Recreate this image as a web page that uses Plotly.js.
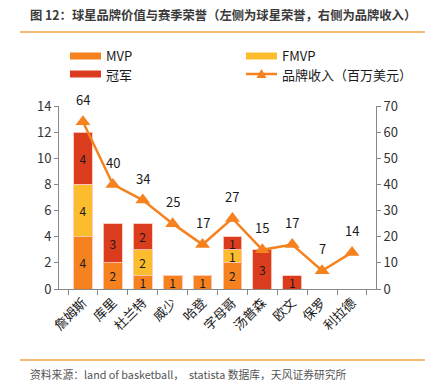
<!DOCTYPE html>
<html>
<head>
<meta charset="utf-8">
<script src="https://cdn.plot.ly/plotly-3.0.1.min.js"></script>
<style>
html,body{margin:0;padding:0;background:#fff;}
#chart{width:434px;height:392px;}
</style>
</head>
<body>
<div id="chart"></div>
<script>
const categories = ['詹姆斯','库里','杜兰特','威少','哈登','字母哥','汤普森','欧文','保罗','利拉德'];
const mvp = [4,2,1,1,1,2,0,0,0,0];
const fmvp = [4,0,2,0,0,1,0,0,0,0];
const champ = [4,3,2,0,0,1,3,1,0,0];
const revenue = [64,40,34,25,17,27,15,17,7,14];
const leftTicks = [0,2,4,6,8,10,12,14];
const rightTicks = [0,10,20,30,40,50,60,70];
const seriesNames = ['MVP','FMVP','冠军','品牌收入（百万美元）'];
const titleText = '图 12：球星品牌价值与赛季荣誉（左侧为球星荣誉，右侧为品牌收入）';
const sourceText = '资料来源：land of basketball，  statista 数据库，天风证券研究所';

const C_MVP = '#F5821F', C_FMVP = '#FBBD2E', C_CHAMP = '#DC3C1E', C_LINE = '#F5821F';
const FONT = '"Noto Sans CJK SC", "Noto Sans", sans-serif';

const W = 434, H = 392;
const L = 59, R = 376, T = 106, B = 289;
const px = x => (x - L) / (R - L);
const py = y => (B - y) / (B - T);

function barTrace(vals, name, color){
  return {
    type:'bar', x:categories, y:vals, name:name, showlegend:false,
    marker:{color:color, line:{color:'rgba(255,200,185,0.9)', width:1}},
    text: vals.map(v => v > 0 ? String(v) : ''),
    texttemplate:'%{text}',
    textposition:'inside', insidetextanchor:'middle', textangle:0,
    textfont:{family:FONT, size:12, color:'#1a1a1a'},
    hoverinfo:'skip', cliponaxis:false
  };
}

const traces = [
  barTrace(mvp, seriesNames[0], C_MVP),
  barTrace(fmvp, seriesNames[1], C_FMVP),
  barTrace(champ, seriesNames[2], C_CHAMP),
  {
    type:'scatter', mode:'lines+markers', x:categories, y:revenue, yaxis:'y2',
    name:seriesNames[3], showlegend:false,
    line:{color:C_LINE, width:2.5},
    marker:{symbol:'triangle-up', size:13, color:C_LINE},
    cliponaxis:false
  }
];

const annotations = revenue.map((v,i) => ({
  x: categories[i], y: v, xref:'x', yref:'y2',
  text: String(v), showarrow:false, yshift:22,
  font:{family:FONT, size:13, color:'#1a1a1a'}
}));

annotations.push({
  xref:'paper', yref:'paper', x:px(28), y:py(15), xanchor:'left', yanchor:'middle',
  text:'<b>'+titleText+'</b>', showarrow:false,
  font:{family:FONT, size:12.3, color:'#3a3a3a'}
});
annotations.push({
  xref:'paper', yref:'paper', x:px(28), y:py(374), xanchor:'left', yanchor:'middle',
  text:sourceText, showarrow:false,
  font:{family:FONT, size:10.8, color:'#555'}
});

// legend (manual)
const legendItems = [
  {name:seriesNames[0], color:C_MVP, x:70, y:56, kind:'bar'},
  {name:seriesNames[1], color:C_FMVP, x:246, y:56, kind:'bar'},
  {name:seriesNames[2], color:C_CHAMP, x:70, y:74, kind:'bar'},
  {name:seriesNames[3], color:C_LINE, x:246, y:74, kind:'line'}
];
const shapes = [
  {type:'line', xref:'paper', yref:'paper', x0:px(20), x1:px(425), y0:py(32), y1:py(32), line:{color:'#F7A04A', width:1.5}},
  {type:'line', xref:'paper', yref:'paper', x0:px(20), x1:px(425), y0:py(360), y1:py(360), line:{color:'#F7A04A', width:1.5}}
];
legendItems.forEach(it => {
  if(it.kind === 'bar'){
    shapes.push({type:'rect', xref:'paper', yref:'paper', x0:px(it.x), x1:px(it.x+31), y0:py(it.y-3.5), y1:py(it.y+3.5), fillcolor:it.color, line:{width:0}});
  } else {
    shapes.push({type:'line', xref:'paper', yref:'paper', x0:px(it.x), x1:px(it.x+31), y0:py(it.y), y1:py(it.y), line:{color:it.color, width:2.5}});
    const cx = it.x+15.5;
    shapes.push({type:'path', xref:'paper', yref:'paper',
      path:`M${px(cx-5)},${py(it.y+4)} L${px(cx+5)},${py(it.y+4)} L${px(cx)},${py(it.y-5)} Z`,
      fillcolor:it.color, line:{width:0}});
  }
  annotations.push({xref:'paper', yref:'paper', x:px(it.x+34), y:py(it.y), xanchor:'left', yanchor:'middle',
    text:it.name, showarrow:false, font:{family:FONT, size:13, color:'#1a1a1a'}});
});

const layout = {
  width:W, height:H,
  margin:{l:L, r:W-R, t:T, b:H-B, pad:0},
  paper_bgcolor:'#fff', plot_bgcolor:'#fff',
  barmode:'stack', bargap:0.37,
  showlegend:false,
  font:{family:FONT, size:13, color:'#333'},
  uniformtext:{mode:'show', minsize:12},
  xaxis:{
    type:'category', tickangle:-45, showgrid:false, zeroline:false,
    showline:true, linecolor:'#888', linewidth:1,
    ticks:'outside', ticklen:5, tickcolor:'#888', tickson:'boundaries',
    tickfont:{family:FONT, size:13, color:'#1a1a1a'}
  },
  yaxis:{
    range:[0,14], tickvals:leftTicks, showgrid:false, zeroline:false,
    showline:true, linecolor:'#888', linewidth:1,
    ticks:'outside', ticklen:4, tickcolor:'#888',
    tickfont:{family:FONT, size:13, color:'#333'}
  },
  yaxis2:{
    range:[0,70], tickvals:rightTicks, overlaying:'y', side:'right', showgrid:false, zeroline:false,
    showline:true, linecolor:'#888', linewidth:1,
    ticks:'outside', ticklen:4, tickcolor:'#888',
    tickfont:{family:FONT, size:13, color:'#333'}
  },
  annotations:annotations,
  shapes:shapes
};

Plotly.newPlot('chart', traces, layout, {displayModeBar:false, staticPlot:true});
</script>
</body>
</html>
